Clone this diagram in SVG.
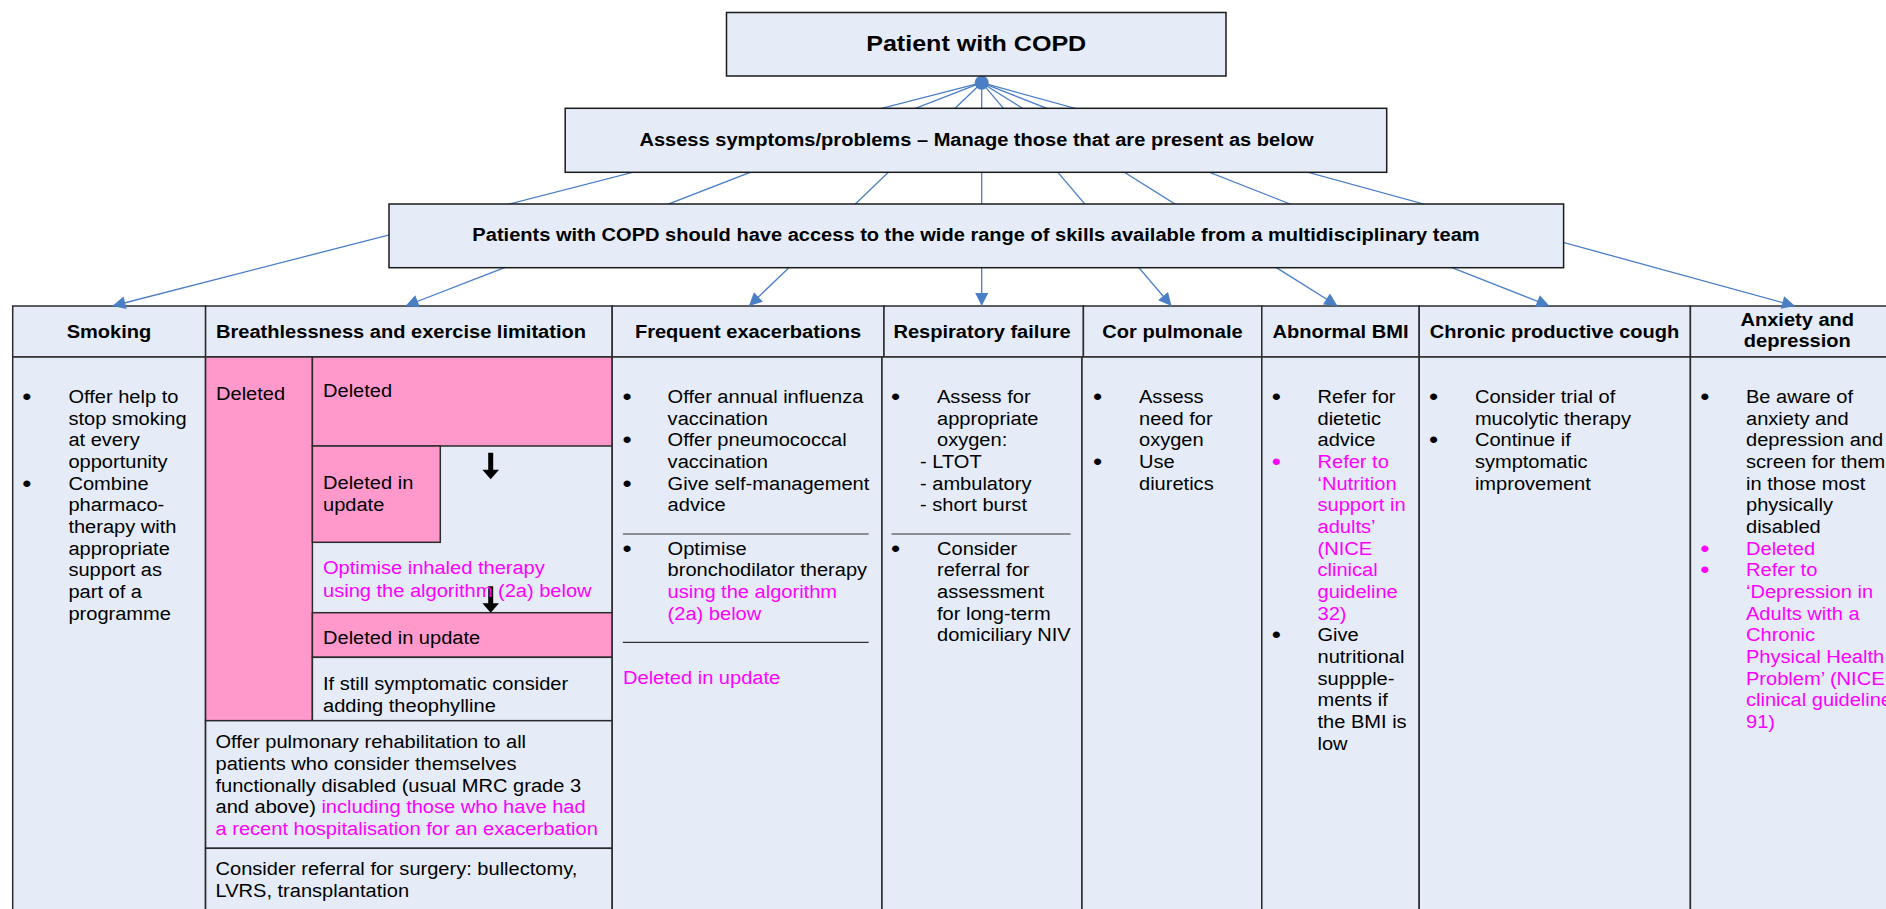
<svg xmlns="http://www.w3.org/2000/svg" xmlns:xlink="http://www.w3.org/1999/xlink" width="1886" height="909" viewBox="0 0 1886 909">
<style>
.t{font-family:"Liberation Sans",Arial,Helvetica,sans-serif;font-size:17.6px;fill:#000}
.bu{font-size:23px}
.b{font-weight:bold}
.m{fill:#FF00FF}
.box{fill:#E5ECF7;stroke:#1a1a1a;stroke-width:1.5}
.cell{fill:#E5ECF7;stroke:#2b2b2b;stroke-width:1.5}
.pink{fill:#FF99CC;stroke:#2b2b2b;stroke-width:1.5}
.sep{stroke:#333;stroke-width:1.2}
.con{stroke:#4A7EC5;stroke-width:1.3;fill:none;marker-end:url(#ah)}
</style>
<defs>
<marker id="ah" viewBox="0 0 10 10" refX="10" refY="5" markerUnits="userSpaceOnUse" markerWidth="17" markerHeight="13" orient="auto">
<path d="M0,0 L10,5 L0,10 z" fill="#4A7EC5"/>
</marker>
<path id="darr" d="M-2.5,0 H2.5 V17 H8.3 L0,26.5 L-8.3,17 H-2.5 Z" fill="#000"/>
</defs>
<rect width="1886" height="909" fill="#fff"/>

<!-- Table columns -->
<g id="col-smoking">
<rect class="cell" x="12.7" y="306" width="192.9" height="51"/>
<rect class="cell" x="12.7" y="357" width="192.9" height="580"/>
<text class="t b" text-anchor="middle" transform="translate(109,337.5) scale(1.14,1)">Smoking</text>
<text class="t bu" transform="translate(22.3,405) scale(1.14,1)"><tspan x="0" y="0">•</tspan><tspan x="0" y="86.64">•</tspan></text>
<text class="t" transform="translate(68.4,403) scale(1.14,1)"><tspan x="0" y="0">Offer help to</tspan><tspan x="0" y="21.66">stop smoking</tspan><tspan x="0" y="43.32">at every</tspan><tspan x="0" y="64.98">opportunity</tspan><tspan x="0" y="86.64">Combine</tspan><tspan x="0" y="108.3">pharmaco-</tspan><tspan x="0" y="129.96">therapy with</tspan><tspan x="0" y="151.62">appropriate</tspan><tspan x="0" y="173.28">support as</tspan><tspan x="0" y="194.94">part of a</tspan><tspan x="0" y="216.6">programme</tspan></text>
</g>

<g id="col-breathlessness">
<rect class="cell" x="205.6" y="306" width="406.6" height="51"/>
<rect class="cell" x="205.6" y="357" width="406.6" height="580"/>
<text class="t b" transform="translate(216,337.5) scale(1.14,1)">Breathlessness and exercise limitation</text>
<rect class="pink" x="205.6" y="357" width="106.8" height="363.7"/>
<rect class="pink" x="312.4" y="357" width="299.8" height="89"/>
<rect class="pink" x="312.4" y="446" width="127.9" height="96.3"/>
<rect class="pink" x="312.4" y="612.7" width="299.8" height="44.6"/>
<rect class="cell" x="312.4" y="657.3" width="299.8" height="63.4"/>
<rect class="cell" x="205.6" y="720.7" width="406.6" height="127.6"/>
<rect class="cell" x="205.6" y="848.3" width="406.6" height="90"/>
<use xlink:href="#darr" x="490.7" y="452.7"/>
<use xlink:href="#darr" x="490.7" y="586.2"/>
<text class="t" transform="translate(216,400) scale(1.14,1)">Deleted</text>
<text class="t" transform="translate(323,397) scale(1.14,1)">Deleted</text>
<text class="t" transform="translate(323,489.3) scale(1.14,1)"><tspan x="0" y="0">Deleted in</tspan><tspan x="0" y="21.7">update</tspan></text>
<text class="t m" transform="translate(323,574.3) scale(1.14,1)"><tspan x="0" y="0">Optimise inhaled therapy</tspan><tspan x="0" y="22.7">using the algorithm (2a) below</tspan></text>
<text class="t" transform="translate(323,643.7) scale(1.14,1)">Deleted in update</text>
<text class="t" transform="translate(323,690) scale(1.14,1)"><tspan x="0" y="0">If still symptomatic consider</tspan><tspan x="0" y="22">adding theophylline</tspan></text>
<text class="t" transform="translate(215.5,748.3) scale(1.14,1)"><tspan x="0" y="0">Offer pulmonary rehabilitation to all</tspan><tspan x="0" y="21.67">patients who consider themselves</tspan><tspan x="0" y="43.34">functionally disabled (usual MRC grade 3</tspan><tspan x="0" y="65.01">and above) <tspan class="m">including those who have had</tspan></tspan><tspan x="0" y="86.68" class="m">a recent hospitalisation for an exacerbation</tspan></text>
<text class="t" transform="translate(215.5,875.3) scale(1.14,1)"><tspan x="0" y="0">Consider referral for surgery: bullectomy,</tspan><tspan x="0" y="21.7">LVRS, transplantation</tspan></text>
</g>

<g id="col-exacerbations">
<rect class="cell" x="612.2" y="306" width="271.8" height="51"/>
<rect class="cell" x="612.2" y="357" width="269.8" height="580"/>
<text class="t b" text-anchor="middle" transform="translate(748,337.5) scale(1.14,1)">Frequent exacerbations</text>
<text class="t bu" transform="translate(622.4,405) scale(1.14,1)"><tspan x="0" y="0">•</tspan><tspan x="0" y="43.32">•</tspan><tspan x="0" y="86.64">•</tspan><tspan x="0" y="151.62">•</tspan></text>
<text class="t" transform="translate(667.6,403) scale(1.14,1)"><tspan x="0" y="0">Offer annual influenza</tspan><tspan x="0" y="21.66">vaccination</tspan><tspan x="0" y="43.32">Offer pneumococcal</tspan><tspan x="0" y="64.98">vaccination</tspan><tspan x="0" y="86.64">Give self-management</tspan><tspan x="0" y="108.3">advice</tspan><tspan x="0" y="151.62">Optimise</tspan><tspan x="0" y="173.28">bronchodilator therapy</tspan><tspan x="0" y="194.94" class="m">using the algorithm</tspan><tspan x="0" y="216.6" class="m">(2a) below</tspan></text>
<line class="sep" x1="622.8" y1="534" x2="868.7" y2="534"/>
<line class="sep" x1="622.8" y1="642.3" x2="868.7" y2="642.3"/>
<text class="t m" transform="translate(623,684.3) scale(1.14,1)">Deleted in update</text>
</g>

<g id="col-respiratory">
<rect class="cell" x="884" y="306" width="199.4" height="51"/>
<rect class="cell" x="882" y="357" width="200" height="580"/>
<text class="t b" text-anchor="middle" transform="translate(982,337.5) scale(1.14,1)">Respiratory failure</text>
<text class="t bu" transform="translate(891,405) scale(1.14,1)"><tspan x="0" y="0">•</tspan><tspan x="0" y="151.62">•</tspan></text>
<text class="t" transform="translate(937,403) scale(1.14,1)"><tspan x="0" y="0">Assess for</tspan><tspan x="0" y="21.66">appropriate</tspan><tspan x="0" y="43.32">oxygen:</tspan><tspan x="0" y="151.62">Consider</tspan><tspan x="0" y="173.28">referral for</tspan><tspan x="0" y="194.94">assessment</tspan><tspan x="0" y="216.6">for long-term</tspan><tspan x="0" y="238.26">domiciliary NIV</tspan></text>
<text class="t" transform="translate(920,403) scale(1.14,1)"><tspan x="0" y="64.98">- LTOT</tspan><tspan x="0" y="86.64">- ambulatory</tspan><tspan x="0" y="108.3">- short burst</tspan></text>
<line class="sep" x1="891.5" y1="534" x2="1070.6" y2="534"/>
</g>

<g id="col-cor-pulmonale">
<rect class="cell" x="1083.4" y="306" width="178.4" height="51"/>
<rect class="cell" x="1082" y="357" width="179.8" height="580"/>
<text class="t b" text-anchor="middle" transform="translate(1172.5,337.5) scale(1.14,1)">Cor pulmonale</text>
<text class="t bu" transform="translate(1092.9,405) scale(1.14,1)"><tspan x="0" y="0">•</tspan><tspan x="0" y="64.98">•</tspan></text>
<text class="t" transform="translate(1139,403) scale(1.14,1)"><tspan x="0" y="0">Assess</tspan><tspan x="0" y="21.66">need for</tspan><tspan x="0" y="43.32">oxygen</tspan><tspan x="0" y="64.98">Use</tspan><tspan x="0" y="86.64">diuretics</tspan></text>
</g>

<g id="col-bmi">
<rect class="cell" x="1261.8" y="306" width="157.4" height="51"/>
<rect class="cell" x="1261.8" y="357" width="157.4" height="580"/>
<text class="t b" text-anchor="middle" transform="translate(1340.5,337.5) scale(1.14,1)">Abnormal BMI</text>
<text class="t bu" transform="translate(1271.7,405) scale(1.14,1)"><tspan x="0" y="0">•</tspan><tspan x="0" y="64.98" class="m">•</tspan><tspan x="0" y="238.26">•</tspan></text>
<text class="t" transform="translate(1317.5,403) scale(1.14,1)"><tspan x="0" y="0">Refer for</tspan><tspan x="0" y="21.66">dietetic</tspan><tspan x="0" y="43.32">advice</tspan><tspan x="0" y="64.98" class="m">Refer to</tspan><tspan x="0" y="86.64" class="m">‘Nutrition</tspan><tspan x="0" y="108.3" class="m">support in</tspan><tspan x="0" y="129.96" class="m">adults’</tspan><tspan x="0" y="151.62" class="m">(NICE</tspan><tspan x="0" y="173.28" class="m">clinical</tspan><tspan x="0" y="194.94" class="m">guideline</tspan><tspan x="0" y="216.6" class="m">32)</tspan><tspan x="0" y="238.26">Give</tspan><tspan x="0" y="259.92">nutritional</tspan><tspan x="0" y="281.58">suppple-</tspan><tspan x="0" y="303.24">ments if</tspan><tspan x="0" y="324.9">the BMI is</tspan><tspan x="0" y="346.56">low</tspan></text>
</g>

<g id="col-cough">
<rect class="cell" x="1419.2" y="306" width="271.2" height="51"/>
<rect class="cell" x="1419.2" y="357" width="271.2" height="580"/>
<text class="t b" text-anchor="middle" transform="translate(1554.5,337.5) scale(1.14,1)">Chronic productive cough</text>
<text class="t bu" transform="translate(1429.1,405) scale(1.14,1)"><tspan x="0" y="0">•</tspan><tspan x="0" y="43.32">•</tspan></text>
<text class="t" transform="translate(1474.9,403) scale(1.14,1)"><tspan x="0" y="0">Consider trial of</tspan><tspan x="0" y="21.66">mucolytic therapy</tspan><tspan x="0" y="43.32">Continue if</tspan><tspan x="0" y="64.98">symptomatic</tspan><tspan x="0" y="86.64">improvement</tspan></text>
</g>

<g id="col-anxiety">
<rect class="cell" x="1690.4" y="306" width="220" height="51"/>
<rect class="cell" x="1690.4" y="357" width="220" height="580"/>
<text class="t b" text-anchor="middle" transform="translate(1797.3,326) scale(1.14,1)"><tspan x="0" y="0">Anxiety and</tspan><tspan x="0" y="21">depression</tspan></text>
<text class="t bu" transform="translate(1700.2,405) scale(1.14,1)"><tspan x="0" y="0">•</tspan><tspan x="0" y="151.62" class="m">•</tspan><tspan x="0" y="173.28" class="m">•</tspan></text>
<text class="t" transform="translate(1746,403) scale(1.14,1)"><tspan x="0" y="0">Be aware of</tspan><tspan x="0" y="21.66">anxiety and</tspan><tspan x="0" y="43.32">depression and</tspan><tspan x="0" y="64.98">screen for them</tspan><tspan x="0" y="86.64">in those most</tspan><tspan x="0" y="108.3">physically</tspan><tspan x="0" y="129.96">disabled</tspan><tspan x="0" y="151.62" class="m">Deleted</tspan><tspan x="0" y="173.28" class="m">Refer to</tspan><tspan x="0" y="194.94" class="m">‘Depression in</tspan><tspan x="0" y="216.6" class="m">Adults with a</tspan><tspan x="0" y="238.26" class="m">Chronic</tspan><tspan x="0" y="259.92" class="m">Physical Health</tspan><tspan x="0" y="281.58" class="m">Problem’ (NICE</tspan><tspan x="0" y="303.24" class="m">clinical guideline</tspan><tspan x="0" y="324.9" class="m">91)</tspan></text>
</g>

<!-- Connectors -->
<g id="connectors">
<line class="con" x1="981.7" y1="82.7" x2="112.5" y2="306"/>
<line class="con" x1="981.7" y1="82.7" x2="405.5" y2="306"/>
<line class="con" x1="981.7" y1="82.7" x2="749" y2="306"/>
<line class="con" x1="981.7" y1="82.7" x2="981.7" y2="306"/>
<line class="con" x1="981.7" y1="82.7" x2="1171.5" y2="306"/>
<line class="con" x1="981.7" y1="82.7" x2="1337.5" y2="306"/>
<line class="con" x1="981.7" y1="82.7" x2="1549.5" y2="306"/>
<line class="con" x1="981.7" y1="82.7" x2="1795" y2="306"/>
<circle cx="981.7" cy="82.7" r="7" fill="#4A7EC5"/>
</g>

<!-- Top nodes -->
<g id="node-patient">
<rect class="box" x="726.5" y="12.5" width="499.5" height="63.5"/>
<text class="t b" text-anchor="middle" style="font-size:22px" transform="translate(976.2,50.7) scale(1.14,1)">Patient with COPD</text>
</g>
<g id="node-assess">
<rect class="box" x="565.2" y="108.3" width="821.5" height="64"/>
<text class="t b" text-anchor="middle" transform="translate(976.5,145.7) scale(1.14,1)">Assess symptoms/problems – Manage those that are present as below</text>
</g>
<g id="node-mdt">
<rect class="box" x="389" y="204" width="1174.6" height="63.7"/>
<text class="t b" text-anchor="middle" transform="translate(976,240.7) scale(1.14,1)">Patients with COPD should have access to the wide range of skills available from a multidisciplinary team</text>
</g>
</svg>
